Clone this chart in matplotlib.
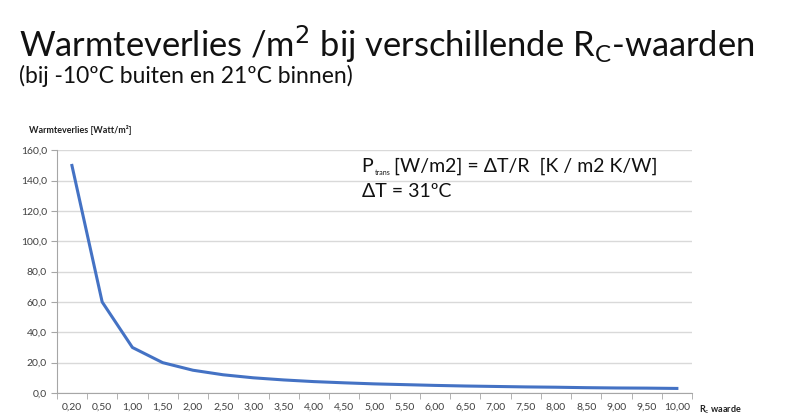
import numpy as np
import matplotlib
matplotlib.use("Agg")
import matplotlib.pyplot as plt

# R_c values (category labels) and heat loss per m2
rc_labels = ["0,20", "0,50", "1,00", "1,50", "2,00", "2,50", "3,00", "3,50", "4,00",
             "4,50", "5,00", "5,50", "6,00", "6,50", "7,00", "7,50", "8,00", "8,50",
             "9,00", "9,50", "10,00"]
heat_loss = [150.0, 60.0, 30.0, 20.0, 15.0, 12.0, 10.0, 8.6, 7.5, 6.7, 6.0,
             5.5, 5.0, 4.6, 4.3, 4.0, 3.8, 3.5, 3.3, 3.2, 3.0]
y_ticks = [0, 20, 40, 60, 80, 100, 120, 140, 160]

plt.rcParams['font.family'] = ['Lato', 'DejaVu Sans']

fig = plt.figure(figsize=(8, 4.17), dpi=100)
ax = fig.add_axes([0.071, 0.0576, 0.794, 0.582])

x = np.arange(len(rc_labels))
ax.plot(x, heat_loss, color="#4472C4", lw=2.2, solid_joinstyle="round")

ax.set_xlim(-0.5, len(rc_labels) - 0.5)
ax.set_ylim(0, 160)
ax.set_yticks(y_ticks)
ax.set_yticklabels([f"{v:.1f}".replace(".", ",") for v in y_ticks])
ax.set_xticks(x)
ax.set_xticklabels(rc_labels)
ax.set_xticks(np.arange(len(rc_labels) + 1) - 0.5, minor=True)
ax.tick_params(axis="x", which="major", length=0, pad=7, labelsize=7.5, colors="#404040")
ax.tick_params(axis="x", which="minor", length=4, color="#a6a6a6")
ax.tick_params(axis="y", length=4, color="#a6a6a6", labelsize=7.5, labelcolor="#404040", pad=3)

ax.grid(axis="y", color="#d9d9d9", lw=1)
ax.set_axisbelow(True)
for side in ["top", "right"]:
    ax.spines[side].set_visible(False)
for side in ["left", "bottom"]:
    ax.spines[side].set_color("#a6a6a6")

# titles
fig.text(0.024, 0.895, "Warmteverlies /m$^2$ bij verschillende R$_\\mathregular{C}$-waarden",
         fontsize=24.8, ha="left", va="center", color="#111111")
fig.text(0.024, 0.818, "(bij -10ºC buiten en 21ºC binnen)", fontsize=16.5,
         ha="left", va="center", color="#111111")

# axis labels
fig.text(0.036, 0.688, "Warmteverlies [Watt/m²]", fontsize=6.5, fontweight="bold",
         ha="left", va="center", color="#202020")
fig.text(0.874, 0.018, "R$_\\mathregular{c}$ waarde", fontsize=6.5, fontweight="bold",
         ha="left", va="center", color="#202020")

# formula annotation, pieced together so "trans" can be tiny
fig.canvas.draw()
renderer = fig.canvas.get_renderer()
inv = fig.transFigure.inverted()
x0, y0 = 0.452, 0.588
t1 = fig.text(x0, y0, "P", fontsize=14, ha="left", va="baseline", color="#111111")
x1 = inv.transform(t1.get_window_extent(renderer))[1][0]
t2 = fig.text(x1 + 0.002, y0 - 0.008, "trans", fontsize=5, ha="left", va="baseline",
              color="#111111")
x2 = inv.transform(t2.get_window_extent(renderer))[1][0]
fig.text(x2 + 0.004, y0, "[W/m2] = ΔT/R  [K / m2 K/W]", fontsize=14, ha="left",
         va="baseline", color="#111111")
fig.text(x0, 0.527, "ΔT = 31ºC", fontsize=14, ha="left", va="baseline", color="#111111")

plt.savefig("out.png", dpi=100)
